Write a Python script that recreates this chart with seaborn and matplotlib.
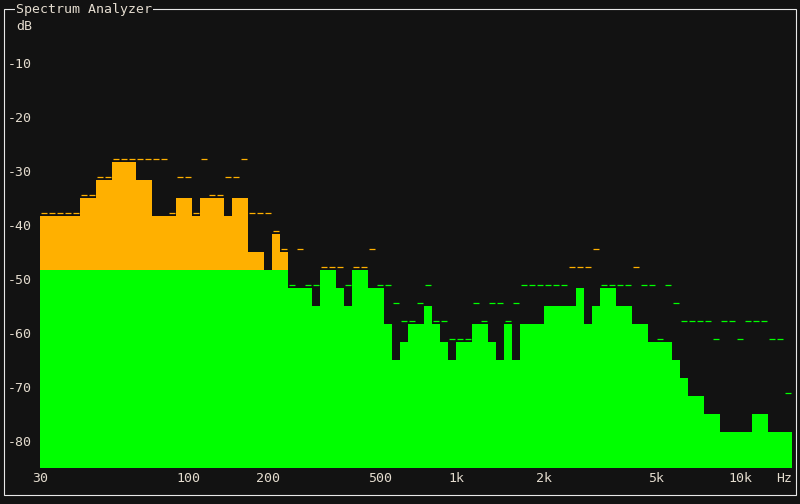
import numpy as np
import pandas as pd
import matplotlib
matplotlib.use("Agg")
import matplotlib.pyplot as plt
from matplotlib.patches import Rectangle
import seaborn as sns

# ---------------- data (dB per analyzer band, 30 Hz .. ~16 kHz) ----------------
level_db = [
    -38.3, -38.3, -38.3, -38.3, -38.3, -35.0, -35.0, -31.7, -31.7, -28.3,
    -28.3, -28.3, -31.7, -31.7, -38.3, -38.3, -38.3, -35.0, -35.0, -38.3,
    -35.0, -35.0, -35.0, -38.3, -35.0, -35.0, -45.0, -45.0, -48.3, -41.7,
    -45.0, -51.7, -51.7, -51.7, -55.0, -48.3, -48.3, -51.7, -55.0, -48.3,
    -48.3, -51.7, -51.7, -58.3, -65.0, -61.7, -58.3, -58.3, -55.0, -58.3,
    -61.7, -65.0, -61.7, -61.7, -58.3, -58.3, -61.7, -65.0, -58.3, -65.0,
    -58.3, -58.3, -58.3, -55.0, -55.0, -55.0, -55.0, -51.7, -58.3, -55.0,
    -51.7, -51.7, -55.0, -55.0, -58.3, -58.3, -61.7, -61.7, -61.7, -65.0,
    -68.3, -71.7, -71.7, -75.0, -75.0, -78.3, -78.3, -78.3, -78.3, -75.0,
    -75.0, -78.3, -78.3, -78.3,
]
peak_db = [
    -38.3, -38.3, -38.3, -38.3, -38.3, -35.0, -35.0, -31.7, -31.7, -28.3,
    -28.3, -28.3, -28.3, -28.3, -28.3, -28.3, -38.3, -31.7, -31.7, -38.3,
    -28.3, -35.0, -35.0, -31.7, -31.7, -28.3, -38.3, -38.3, -38.3, -41.7,
    -45.0, -51.7, -45.0, -51.7, -51.7, -48.3, -48.3, -48.3, -51.7, -48.3,
    -48.3, -45.0, -51.7, -51.7, -55.0, -58.3, -58.3, -55.0, -51.7, -58.3,
    -58.3, -61.7, -61.7, -61.7, -55.0, -58.3, -55.0, -55.0, -58.3, -55.0,
    -51.7, -51.7, -51.7, -51.7, -51.7, -51.7, -48.3, -48.3, -48.3, -45.0,
    -51.7, -51.7, -51.7, -51.7, -48.3, -51.7, -51.7, -61.7, -51.7, -55.0,
    -58.3, -58.3, -58.3, -58.3, -61.7, -58.3, -58.3, -61.7, -58.3, -58.3,
    -58.3, -61.7, -61.7, -71.7,
]
x_tick_labels = ["30", "100", "200", "500", "1k", "2k", "5k", "10k", "Hz"]
x_tick_band = [-0.5, 18, 28, 42, 51.5, 62.5, 76.5, 87, 92.5]
y_ticks = [-10, -20, -30, -40, -50, -60, -70, -80]
y_tick_labels = ["-10", "-20", "-30", "-40", "-50", "-60", "-70", "-80"]

FLOOR_DB = -85.0
TOP_DB = -5.0
WARN_DB = -48.3

# ---------------- style ----------------
BG = "#121212"
GREEN = "#00ff00"
ORANGE = "#ffb000"
TEXT = "#e4dccf"
FRAME = "#e8e8e8"

sns.set_style("dark", rc={"axes.facecolor": BG, "figure.facecolor": BG})
plt.rcParams["font.family"] = ["DejaVu Sans Mono", "DejaVu Sans"]

W, H = 800, 504
fig = plt.figure(figsize=(W / 100, H / 100), dpi=100)
fig.patch.set_facecolor(BG)

# axes occupy the bar region: x 40..792 px, y 36..468 px
ax = fig.add_axes([40 / W, (H - 468) / H, 752 / W, 432 / H])
ax.set_facecolor(BG)

df = pd.DataFrame({"band": np.arange(len(level_db)), "level": level_db, "peak": peak_db})
df["full"] = df["level"] - FLOOR_DB
df["safe"] = np.minimum(df["level"], WARN_DB) - FLOOR_DB

common = dict(x="band", orient="x", width=1.0, saturation=1, errorbar=None,
              linewidth=0, edgecolor="none", bottom=FLOOR_DB, ax=ax)
sns.barplot(data=df, y="full", color=ORANGE, **common)
sns.barplot(data=df, y="safe", color=GREEN, **common)

peak_colors = [ORANGE if p >= WARN_DB - 0.05 else GREEN for p in df["peak"]]
ax.hlines(df["peak"] + 0.5, df["band"] - 0.42, df["band"] + 0.42,
          colors=peak_colors, linewidth=0.9, zorder=3)

ax.set_xlim(-0.5, len(level_db) - 0.5)
ax.set_ylim(FLOOR_DB, TOP_DB)
ax.grid(False)
for s in ax.spines.values():
    s.set_visible(False)

ax.set_xticks(x_tick_band)
ax.set_xticklabels(x_tick_labels)
ax.set_yticks(y_ticks)
ax.set_yticklabels(y_tick_labels)
ax.tick_params(axis="both", length=0, colors=TEXT, labelsize=9.5)
ax.tick_params(axis="y", pad=5.76)
ax.tick_params(axis="x", pad=2.9)
ax.set_xlabel("")
ax.set_ylabel("")

# frame with embedded title
fig.patches.append(Rectangle((3.5 / W, (H - 494.5) / H), 792 / W, 486 / H,
                             transform=fig.transFigure, fill=False,
                             edgecolor=FRAME, linewidth=0.8, zorder=1))
fig.text(16 / W, 1 - 9 / H, "Spectrum Analyzer", ha="left", va="center",
         color=TEXT, fontsize=9.5, zorder=5,
         bbox=dict(facecolor=BG, edgecolor="none", pad=0.6))
fig.text(16 / W, 1 - 27 / H, "dB", ha="left", va="center", color=TEXT, fontsize=9.5)

fig.savefig("out.png", dpi=100, facecolor=BG)
